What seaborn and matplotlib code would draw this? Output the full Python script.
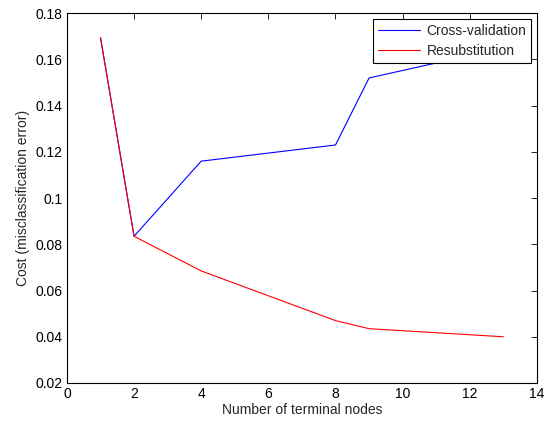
import matplotlib
matplotlib.use("Agg")
import matplotlib.pyplot as plt
import seaborn as sns
import pandas as pd

nodes = [1, 2, 4, 8, 9, 13]
cross_validation = [0.1695, 0.0835, 0.1160, 0.1230, 0.1520, 0.1650]
resubstitution = [0.1695, 0.0835, 0.0685, 0.0470, 0.0435, 0.0400]
series_names = ["Cross-validation", "Resubstitution"]

df = pd.DataFrame({
    "nodes": nodes * 2,
    "cost": cross_validation + resubstitution,
    "series": [series_names[0]] * len(nodes) + [series_names[1]] * len(nodes),
})

sns.set_style("white")
plt.rcParams['font.family'] = ['Liberation Sans', 'DejaVu Sans']

fig = plt.figure(figsize=(5.44, 4.23), dpi=100)
ax = fig.add_axes([0.123, 0.0946, 0.864, 0.874])

sns.lineplot(data=df, x="nodes", y="cost", hue="series",
             palette={series_names[0]: "#0000ff", series_names[1]: "#ff0000"},
             linewidth=0.8, ax=ax, legend=True)

ax.set_xlim(0, 14)
ax.set_ylim(0.02, 0.18)
ax.set_xticks(range(0, 15, 2))
ax.set_yticks([0.02, 0.04, 0.06, 0.08, 0.1, 0.12, 0.14, 0.16, 0.18])
ax.set_yticklabels(["0.02", "0.04", "0.06", "0.08", "0.1", "0.12", "0.14", "0.16", "0.18"])
ax.tick_params(direction="in", top=True, right=True, length=4, width=0.6,
               labelsize=10, colors="black", pad=3)
for s in ax.spines.values():
    s.set_color("black")
    s.set_linewidth(0.8)
ax.set_xlabel("Number of terminal nodes", fontsize=10, labelpad=1)
ax.set_ylabel("Cost (misclassification error)", fontsize=10, labelpad=4)

leg = ax.legend(loc="upper right", fontsize=10, frameon=True, fancybox=False,
                edgecolor="black", framealpha=1, borderaxespad=0.4,
                handlelength=3.0, handletextpad=0.5, borderpad=0.35,
                labelspacing=0.45)
leg.get_frame().set_linewidth(0.8)

fig.savefig("out.png", dpi=100)
